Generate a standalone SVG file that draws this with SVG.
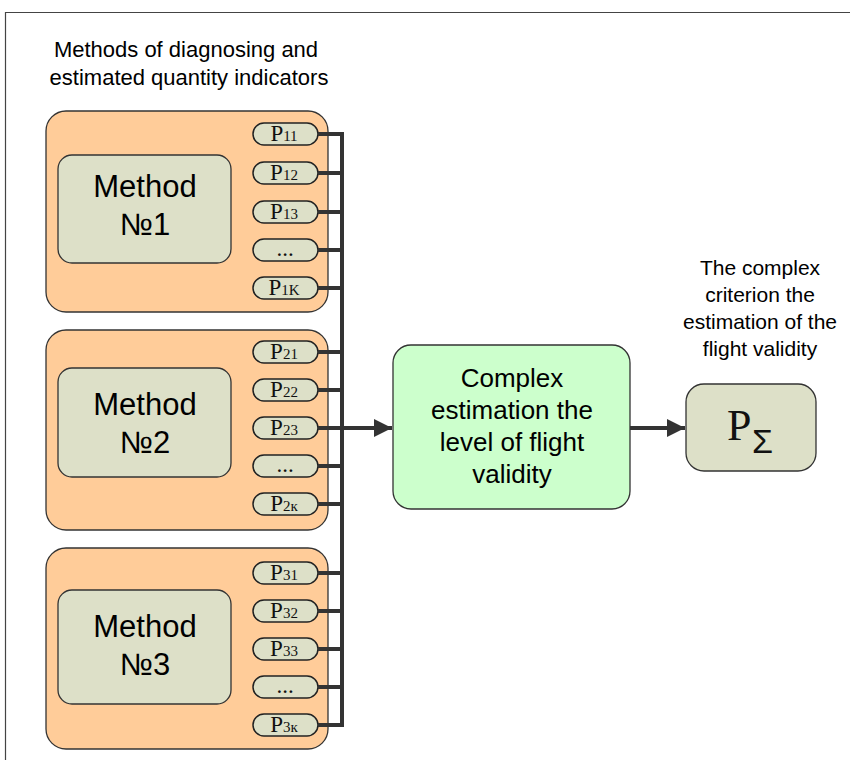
<svg xmlns="http://www.w3.org/2000/svg" width="850" height="760" viewBox="0 0 850 760">
<defs>
<style>
.outer{fill:#FFCC99;stroke:#333;stroke-width:1.3}
.inner{fill:#DDE0C8;stroke:#333;stroke-width:1.3}
.pill{fill:#DDE0C8;stroke:#222;stroke-width:1.5}
.green{fill:#CCFFCC;stroke:#333;stroke-width:1.3}
.lbl{font-family:"Liberation Sans",Arial,sans-serif;fill:#000;text-anchor:middle}
.m{font-size:31px}
.p{font-family:"Liberation Serif","Times New Roman",serif;font-size:23px;fill:#111;text-anchor:middle}
.sub{font-size:15px}
.wire{stroke:#333;stroke-width:4;fill:none}
</style>
<marker id="arr" viewBox="0 0 10 10" refX="10" refY="5" markerWidth="5.5" markerHeight="4.5" markerUnits="strokeWidth" orient="auto">
<path d="M0,0 L10,5 L0,10 z" fill="#333"/>
</marker>
</defs>
<rect width="850" height="760" fill="#fff"/>
<path d="M5.5,760 V12.5 H850" fill="none" stroke="#444" stroke-width="1.2"/>
<text class="lbl" font-size="22" x="186" y="57">Methods of diagnosing and</text>
<text class="lbl" font-size="22" x="189" y="85">estimated quantity indicators</text>
<g id="method1">
<rect class="outer" x="46" y="111" width="282" height="201" rx="20"/>
<rect class="inner" x="58" y="155" width="173" height="108" rx="14"/>
<text class="lbl m" x="145" y="197">Method</text>
<text class="lbl m" x="145" y="235">№1</text>
<rect class="pill" x="253" y="123" width="65" height="22" rx="11"/>
<text class="p" x="284" y="141">P<tspan class="sub">11</tspan></text>
<rect class="pill" x="253" y="162" width="65" height="22" rx="11"/>
<text class="p" x="284" y="180">P<tspan class="sub">12</tspan></text>
<rect class="pill" x="253" y="201" width="65" height="22" rx="11"/>
<text class="p" x="284" y="219">P<tspan class="sub">13</tspan></text>
<rect class="pill" x="253" y="239" width="65" height="22" rx="11"/>
<text class="p" x="285" y="256">...</text>
<rect class="pill" x="253" y="277" width="65" height="22" rx="11"/>
<text class="p" x="284" y="295">P<tspan class="sub">1K</tspan></text>
</g>
<g id="method2">
<rect class="outer" x="46" y="330" width="282" height="200" rx="20"/>
<rect class="inner" x="58" y="368" width="173" height="109" rx="14"/>
<text class="lbl m" x="145" y="415">Method</text>
<text class="lbl m" x="145" y="453">№2</text>
<rect class="pill" x="253" y="341" width="65" height="22" rx="11"/>
<text class="p" x="284" y="359">P<tspan class="sub">21</tspan></text>
<rect class="pill" x="253" y="379" width="65" height="22" rx="11"/>
<text class="p" x="284" y="397">P<tspan class="sub">22</tspan></text>
<rect class="pill" x="253" y="417" width="65" height="22" rx="11"/>
<text class="p" x="284" y="435">P<tspan class="sub">23</tspan></text>
<rect class="pill" x="253" y="455" width="65" height="22" rx="11"/>
<text class="p" x="285" y="472">...</text>
<rect class="pill" x="253" y="493" width="65" height="22" rx="11"/>
<text class="p" x="284" y="511">P<tspan class="sub">2к</tspan></text>
</g>
<g id="method3">
<rect class="outer" x="46" y="548" width="282" height="201" rx="20"/>
<rect class="inner" x="58" y="590" width="173" height="114" rx="14"/>
<text class="lbl m" x="145" y="637">Method</text>
<text class="lbl m" x="145" y="675">№3</text>
<rect class="pill" x="253" y="562" width="65" height="22" rx="11"/>
<text class="p" x="284" y="580">P<tspan class="sub">31</tspan></text>
<rect class="pill" x="253" y="600" width="65" height="22" rx="11"/>
<text class="p" x="284" y="618">P<tspan class="sub">32</tspan></text>
<rect class="pill" x="253" y="638" width="65" height="22" rx="11"/>
<text class="p" x="284" y="656">P<tspan class="sub">33</tspan></text>
<rect class="pill" x="253" y="676" width="65" height="22" rx="11"/>
<text class="p" x="285" y="693">...</text>
<rect class="pill" x="253" y="714" width="65" height="22" rx="11"/>
<text class="p" x="284" y="732">P<tspan class="sub">3к</tspan></text>
</g>
<g id="complex">
<rect class="green" x="393" y="345" width="237" height="164" rx="18"/>
<text class="lbl" font-size="26" x="512" y="387">Complex</text>
<text class="lbl" font-size="26" x="512" y="419">estimation the</text>
<text class="lbl" font-size="26" x="512" y="451">level of flight</text>
<text class="lbl" font-size="26" x="512" y="483">validity</text>
</g>
<g id="criterion">
<text class="lbl" font-size="21" x="760" y="275">The complex</text>
<text class="lbl" font-size="21" x="760" y="302">criterion the</text>
<text class="lbl" font-size="21" x="760" y="329">estimation of the</text>
<text class="lbl" font-size="21" x="760" y="356">flight validity</text>
<rect class="inner" x="686" y="384" width="130" height="87" rx="18"/>
<text x="727" y="440" font-family="'Liberation Serif','Times New Roman',serif" font-size="44" fill="#111">P</text>
<text x="752" y="453" font-family="'Liberation Sans',Arial,sans-serif" font-size="34" fill="#111">Σ</text>
</g>
<g id="connectors">
<path class="wire" d="M318,134 H342 M318,173 H342 M318,212 H342 M318,250 H342 M318,288 H342 M318,352 H342 M318,390 H342 M318,428 H342 M318,466 H342 M318,504 H342 M318,573 H342 M318,611 H342 M318,649 H342 M318,687 H342 M318,725 H342"/>
<path class="wire" d="M342,132 V727"/>
<path class="wire" d="M342,428 H392" marker-end="url(#arr)"/>
<path class="wire" d="M630,428 H685" marker-end="url(#arr)"/>
</g>
</svg>
